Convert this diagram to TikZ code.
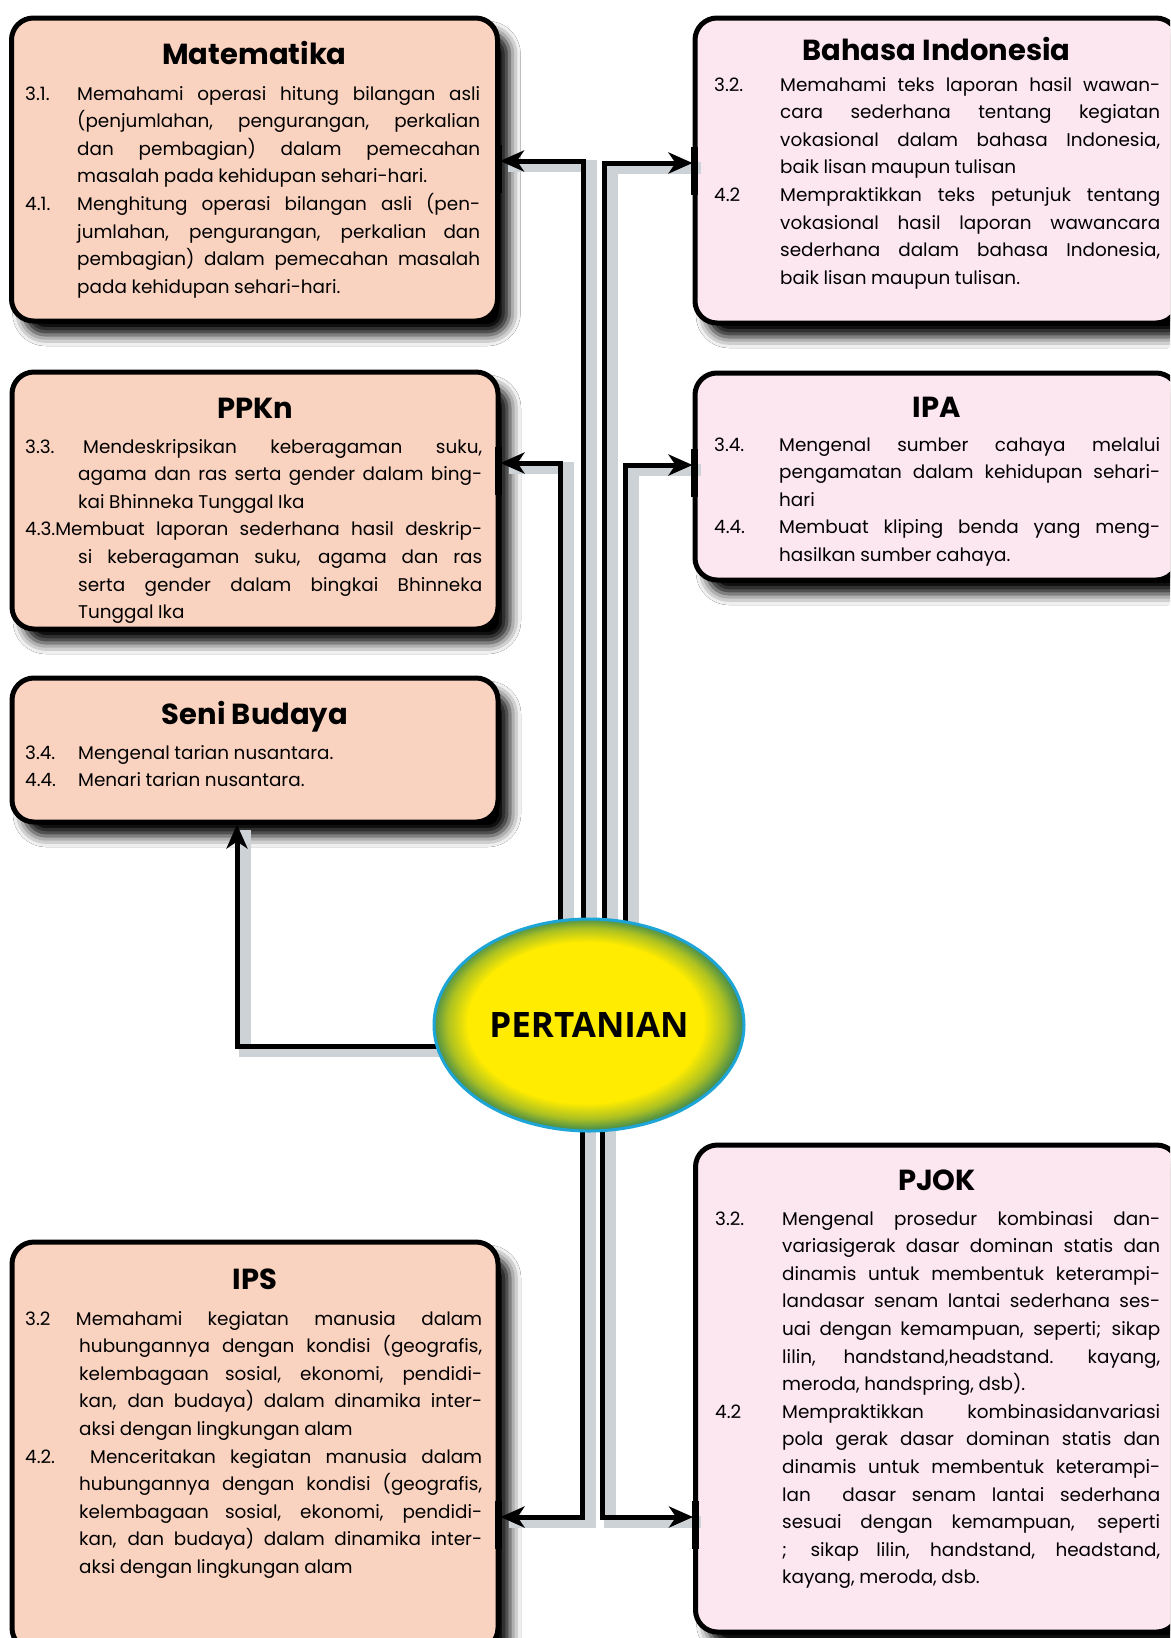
\documentclass[tikz,border=0pt]{standalone}
\usepackage{fontspec}
\setmainfont{Poppins}
\newfontfamily\tanifont{Open Sans}
\usetikzlibrary{shapes.geometric,arrows.meta,shadows.blur}

\definecolor{kiricol}{RGB}{250,210,192}
\definecolor{kanancol}{RGB}{252,230,240}
\definecolor{tyellow}{RGB}{255,236,0}
\definecolor{tgreen}{RGB}{70,140,75}
\definecolor{tblue}{RGB}{30,165,215}
\definecolor{bayang}{RGB}{205,210,215}

\pgfdeclareradialshading{tanishade}{\pgfpoint{-1.5bp}{1.5bp}}{color(0bp)=(tyellow); color(19bp)=(tyellow); color(22.5bp)=(tyellow!55!tgreen); color(25bp)=(tgreen); color(30bp)=(tgreen)}

% butir kompetensi dengan label menggantung
\newcommand{\kd}[3]{\par\noindent\hangindent=#3\hangafter=1\makebox[#2][l]{#1}\ignorespaces}
\newcommand{\isi}[2]{\parbox[t]{#1}{\fontsize{18.4}{27.6}\selectfont\spaceskip=.25em plus .6em minus .1em
	\tolerance=10000\hyphenpenalty=10000\exhyphenpenalty=10000 #2}}

\begin{document}
\begin{tikzpicture}
	[x=1pt,y=-1pt,
	kotak/.style={draw,line width=5pt,rounded corners=22pt,inner sep=0pt,
		blur shadow={shadow xshift=12pt,shadow yshift=-14pt,shadow blur radius=11pt,shadow opacity=100}},
	kiri/.style={kotak,fill=kiricol,minimum width=486pt},
	kanan/.style={kotak,fill=kanancol,minimum width=483pt},
	judul/.style={font=\fontsize{29}{32}\selectfont\bfseries,anchor=base,inner sep=0pt},
	body/.style={anchor=base west,inner sep=0pt},
	link/.style={line width=5pt,line join=miter,-{Stealth[length=24pt,width=21pt,inset=7pt]},
		preaction={draw=bayang,line width=12pt,arrows=-,transform canvas={xshift=8pt,yshift=-5pt}}},
	palang/.style={line width=7pt},]
	\useasboundingbox (0,0) rectangle (1170,1638);
	\clip (0,0) rectangle (1170,1638);
	\fill[white] (0,0) rectangle (1170,1638);

	% kotak mata pelajaran
	\node[kiri,minimum height=303pt] (mat) at (254.5,169.5) {};
	\node[kanan,minimum height=305pt] (bhs) at (936.5,170.5) {};
	\node[kiri,minimum height=257pt] (ppkn) at (255,500.5) {};
	\node[kanan,minimum height=207pt] (ipa) at (936.5,476.5) {};
	\node[kiri,minimum height=144pt] (seni) at (255,750) {};
	\node[kiri,minimum height=408pt] (ips) at (255,1446) {};
	\node[kanan,minimum height=487pt] (pjok) at (937,1388.5) {};

	% judul
	\node[judul] (matJ) at (mat.north |- 0,64) {Matematika};
	\node[judul] (bhsJ) at (bhs.north |- 0,60) {Bahasa Indonesia};
	\node[judul] (ppknJ) at (ppkn.north |- 0,418) {PPKn};
	\node[judul] (ipaJ) at (ipa.north |- 0,417) {IPA};
	\node[judul] (seniJ) at (seni.north |- 0,724) {Seni Budaya};
	\node[judul] (ipsJ) at (ips.north |- 0,1289) {IPS};
	\node[judul] (pjokJ) at (pjok.north |- 0,1190) {PJOK};

	% isi
	\node[body] (matI) at (25,100) {\isi{455pt}{%
		\kd{3.1.}{52pt}{52pt}Memahami operasi hitung bilangan asli\linebreak (penjumlahan, pengurangan, perkalian\linebreak dan pembagian) dalam pemecahan\linebreak masalah pada kehidupan sehari-hari.
		\kd{4.1.}{52pt}{52pt}Menghitung operasi bilangan asli (pen-\linebreak jumlahan, pengurangan, perkalian dan\linebreak pembagian) dalam pemecahan masalah\linebreak pada kehidupan sehari-hari.}};
	\node[body] (bhsI) at (714,91) {\isi{446pt}{%
		\kd{3.2.}{66pt}{66pt}Memahami teks laporan hasil wawan-\linebreak cara sederhana tentang kegiatan\linebreak vokasional dalam bahasa Indonesia,\linebreak baik lisan maupun tulisan
		\kd{4.2}{66pt}{66pt}Mempraktikkan teks petunjuk tentang\linebreak vokasional hasil laporan wawancara\linebreak sederhana dalam bahasa Indonesia,\linebreak baik lisan maupun tulisan.}};
	\node[body] (ppknI) at (25,453) {\isi{457pt}{%
		\kd{3.3.}{58pt}{53pt}Mendeskripsikan keberagaman suku,\linebreak agama dan ras serta gender dalam bing-\linebreak kai Bhinneka Tunggal Ika
		\kd{}{0pt}{53pt}4.3.Membuat laporan sederhana hasil deskrip-\linebreak si keberagaman suku, agama dan ras\linebreak serta gender dalam bingkai Bhinneka\linebreak Tunggal Ika}};
	\node[body] (ipaI) at (714,451) {\isi{446pt}{%
		\kd{3.4.}{65pt}{65pt}Mengenal sumber cahaya melalui\linebreak pengamatan dalam kehidupan sehari-\linebreak hari
		\kd{4.4.}{65pt}{65pt}Membuat kliping benda yang meng-\linebreak hasilkan sumber cahaya.}};
	\node[body] (seniI) at (25,759) {\isi{457pt}{%
		\kd{3.4.}{53pt}{53pt}Mengenal tarian nusantara.
		\kd{4.4.}{53pt}{53pt}Menari tarian nusantara.}};
	\node[body] (ipsI) at (25,1325) {\isi{457pt}{%
		\kd{}{0pt}{54pt}3.2 Memahami kegiatan manusia dalam\linebreak hubungannya dengan kondisi (geografis,\linebreak kelembagaan sosial, ekonomi, pendidi-\linebreak kan, dan budaya) dalam dinamika inter-\linebreak aksi dengan lingkungan alam
		\kd{}{0pt}{54pt}4.2. Menceritakan kegiatan manusia dalam\linebreak hubungannya dengan kondisi (geografis,\linebreak kelembagaan sosial, ekonomi, pendidi-\linebreak kan, dan budaya) dalam dinamika inter-\linebreak aksi dengan lingkungan alam}};
	\node[body] (pjokI) at (715,1225) {\isi{445pt}{%
		\kd{3.2.}{67pt}{67pt}Mengenal prosedur kombinasi dan-\linebreak variasigerak dasar dominan statis dan\linebreak dinamis untuk membentuk keterampi-\linebreak landasar senam lantai sederhana ses-\linebreak uai dengan kemampuan, seperti; sikap\linebreak lilin,\ \ handstand,headstand. kayang,\linebreak meroda, handspring, dsb).
		\kd{4.2}{67pt}{67pt}Mempraktikkan kombinasidanvariasi\linebreak pola gerak dasar dominan statis dan\linebreak dinamis untuk membentuk keterampi-\linebreak lan\ \ dasar senam lantai sederhana\linebreak sesuai dengan kemampuan, seperti\linebreak ; sikap lilin, handstand, headstand,\linebreak kayang, meroda, dsb.}};

	% penghubung
	\node[ellipse,minimum width=310pt,minimum height=212pt,inner sep=0pt] (tani) at (589,1025) {};
	\draw[link] (tani.center -| 583,0) |- (mat.east |- 0,161);
	\draw[link] (tani.center -| 604,0) |- (bhs.west |- 0,163);
	\draw[link] (tani.center -| 560,0) |- (ppkn.east |- 0,463);
	\draw[link] (tani.center -| 625,0) |- (ipa.west |- 0,465);
	\draw[link] (tani.center |- 0,1046) -| (seni.south -| 237,0);
	\draw[link] (tani.center -| 582,0) |- (ips.east |- 0,1517);
	\draw[link] (tani.center -| 602,0) |- (pjok.west |- 0,1517);
	\foreach \n/\yy/\dx in {mat.east/161/-2,bhs.west/163/2,ppkn.east/463/-2,ipa.west/465/2,ips.east/1517/-2,pjok.west/1517/2}
	{
		\draw[palang] ([xshift=\dx pt]\n |- 0,\yy) ++(0,-16) -- ++(0,48);
	}

	% tema
	\node[ellipse,minimum width=310pt,minimum height=212pt,inner sep=0pt,draw=tblue,line width=3pt,shading=tanishade,
		font=\tanifont\fontsize{35}{40}\selectfont\bfseries] (tema) at (tani) {PERTANIAN};
\end{tikzpicture}
\end{document}
